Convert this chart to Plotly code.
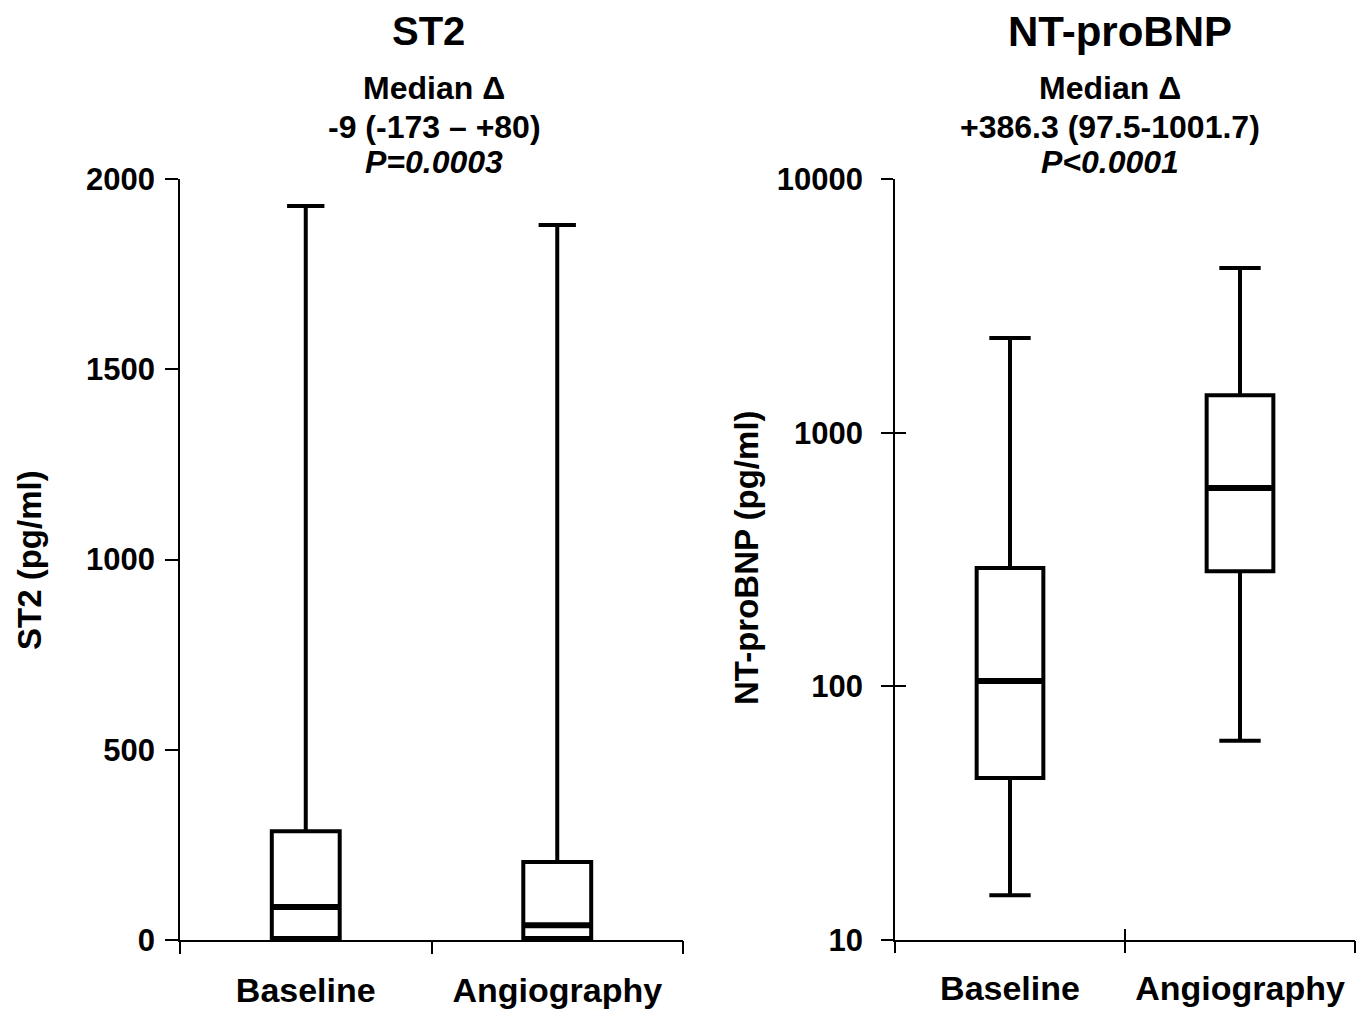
import plotly.graph_objects as go

# ---------------- data ----------------
categories = ["Baseline", "Angiography"]
cat_pos = [0, 1]

st2_lower = [0, 0]
st2_q1 = [5, 5]
st2_median = [87, 39]
st2_q3 = [286, 205]
st2_upper = [1929, 1879]

bnp_lower = [15, 61]
bnp_q1 = [43.5, 284]
bnp_median = [105, 605]
bnp_q3 = [293, 1406]
bnp_upper = [2360, 4455]

st2_ticks = [0, 500, 1000, 1500, 2000]
bnp_ticks = [10, 100, 1000, 10000]
bnp_ticktext = ["10", "100", "1000", "10000"]

st2_title = "ST2"
bnp_title = "NT-proBNP"
st2_stats = ["Median Δ", "-9 (-173 – +80)", "P=0.0003"]
bnp_stats = ["Median Δ", "+386.3 (97.5-1001.7)", "P<0.0001"]
st2_ylabel = "ST2 (pg/ml)"
bnp_ylabel = "NT-proBNP (pg/ml)"

# ---------------- style ----------------
FONT = "Liberation Sans, Arial, sans-serif"
BLACK = "#000000"
W, H = 1366, 1011
left_dom = [180 / W, 683 / W]
right_dom = [895 / W, 1355 / W]
y_dom = [(H - 940) / H, (H - 179) / H]
box_w_left = 0.27
box_w_right = 0.29

fig = go.Figure()

def add_box(xa, ya, q1, med, q3, lo, hi, width, whisk):
    fig.add_trace(go.Box(
        x=cat_pos, q1=q1, median=med, q3=q3, lowerfence=lo, upperfence=hi,
        width=width, whiskerwidth=whisk, boxpoints=False,
        fillcolor="white", line=dict(color=BLACK, width=4),
        xaxis=xa, yaxis=ya, showlegend=False, hoverinfo="skip",
    ))

add_box("x", "y", st2_q1, st2_median, st2_q3, st2_lower, st2_upper, box_w_left, 0.55)
add_box("x2", "y2", bnp_q1, bnp_median, bnp_q3, bnp_lower, bnp_upper, box_w_right, 0.62)

# dummy traces to activate overlay axes
for xa, ya in [("x3", "y"), ("x4", "y2"), ("x5", "y4")]:
    fig.add_trace(go.Scatter(x=[None], y=[None], xaxis=xa, yaxis=ya,
                             showlegend=False, hoverinfo="skip"))

# thicker median lines
shapes = []
for i, m in zip(cat_pos, st2_median):
    shapes.append(dict(type="line", xref="x", yref="y",
                       x0=i - box_w_left / 2, x1=i + box_w_left / 2, y0=m, y1=m,
                       line=dict(color=BLACK, width=6)))
for i, m in zip(cat_pos, bnp_median):
    shapes.append(dict(type="line", xref="x2", yref="y2",
                       x0=i - box_w_right / 2, x1=i + box_w_right / 2, y0=m, y1=m,
                       line=dict(color=BLACK, width=6)))

tickfont_y = dict(family=FONT, size=31, color=BLACK)
tickfont_x = dict(family=FONT, size=34, color=BLACK)
bounds = [-0.5, 0.5, 1.5]

common = dict(automargin=False, showgrid=False, zeroline=False)

layout = dict(
    width=W, height=H, margin=dict(l=0, r=0, t=0, b=0, autoexpand=False),
    paper_bgcolor="white", plot_bgcolor="white",
    font=dict(family=FONT, color=BLACK),
    showlegend=False,
    shapes=shapes,
    # ---- left chart ----
    xaxis=dict(domain=left_dom, anchor="y", range=[-0.5, 1.5],
               tickvals=cat_pos, ticktext=[f"<b>{c}</b>" for c in categories],
               ticks="", showline=True, linecolor=BLACK, linewidth=1.5,
               tickfont=tickfont_x, ticklabelstandoff=19, **common),
    xaxis3=dict(overlaying="x", anchor="y", range=[-0.5, 1.5], domain=left_dom,
                tickvals=bounds, ticks="outside", ticklen=13, tickwidth=1.5,
                tickcolor=BLACK, showticklabels=False, showline=False, **common),
    yaxis=dict(domain=y_dom, anchor="x", range=[0, 2000], tickvals=st2_ticks,
               ticktext=[f"<b>{t}</b>" for t in st2_ticks],
               ticks="outside", ticklen=13, tickwidth=1.5, tickcolor=BLACK,
               showline=True, linecolor=BLACK, linewidth=1.5,
               tickfont=tickfont_y, ticklabelstandoff=4, **common),
    # ---- right chart ----
    xaxis2=dict(domain=right_dom, anchor="y2", range=[-0.5, 1.5],
                tickvals=cat_pos, ticktext=[f"<b>{c}</b>" for c in categories],
                ticks="", showline=True, linecolor=BLACK, linewidth=1.5,
                tickfont=tickfont_x, ticklabelstandoff=17, **common),
    xaxis4=dict(overlaying="x2", anchor="y2", range=[-0.5, 1.5], domain=right_dom,
                tickvals=bounds, ticks="outside", ticklen=12, tickwidth=1.5,
                tickcolor=BLACK, showticklabels=False, showline=False, **common),
    xaxis5=dict(overlaying="x2", anchor="y4", range=[-0.5, 1.5], domain=right_dom,
                tickvals=bounds, ticks="inside", ticklen=11, tickwidth=1.5,
                tickcolor=BLACK, showticklabels=False, showline=False, **common),
    yaxis2=dict(domain=y_dom, anchor="x2", type="log", range=[1, 4],
                tickvals=bnp_ticks, ticktext=[f"<b>{t}</b>" for t in bnp_ticktext],
                ticks="outside", ticklen=12, tickwidth=1.5, tickcolor=BLACK,
                showline=True, linecolor=BLACK, linewidth=1.5,
                tickfont=tickfont_y, ticklabelstandoff=12, **common),
    yaxis4=dict(overlaying="y2", anchor="x2", side="left", type="log", range=[1, 4],
                domain=y_dom, tickvals=bnp_ticks, ticks="inside", ticklen=11,
                tickwidth=1.5, tickcolor=BLACK, showticklabels=False,
                showline=False, **common),
)
fig.update_layout(**layout)

def px_x(p):
    return p / W

def px_y(p):
    return 1 - p / H

annos = []
# titles
annos.append(dict(text=f"<b>{st2_title}</b>", x=px_x(428), y=px_y(31), xref="paper", yref="paper",
                  showarrow=False, font=dict(family=FONT, size=40, color=BLACK),
                  xanchor="center", yanchor="middle"))
annos.append(dict(text=f"<b>{bnp_title}</b>", x=px_x(1120), y=px_y(31), xref="paper", yref="paper",
                  showarrow=False, font=dict(family=FONT, size=42, color=BLACK),
                  xanchor="center", yanchor="middle"))
# stats lines
line_y = [88, 127, 162]
for cx, stats in [(434, st2_stats), (1110, bnp_stats)]:
    for k, (txt, yy) in enumerate(zip(stats, line_y)):
        t = f"<b><i>{txt}</i></b>" if k == 2 else f"<b>{txt}</b>"
        annos.append(dict(text=t, x=px_x(cx), y=px_y(yy), xref="paper", yref="paper",
                          showarrow=False, font=dict(family=FONT, size=32, color=BLACK),
                          xanchor="center", yanchor="middle"))
# y-axis titles
annos.append(dict(text=f"<b>{st2_ylabel}</b>", x=px_x(29), y=px_y(560), xref="paper", yref="paper",
                  showarrow=False, textangle=-90, font=dict(family=FONT, size=33, color=BLACK),
                  xanchor="center", yanchor="middle"))
annos.append(dict(text=f"<b>{bnp_ylabel}</b>", x=px_x(746), y=px_y(558), xref="paper", yref="paper",
                  showarrow=False, textangle=-90, font=dict(family=FONT, size=33, color=BLACK),
                  xanchor="center", yanchor="middle"))
fig.update_layout(annotations=annos)

fig.write_html("out.html")
